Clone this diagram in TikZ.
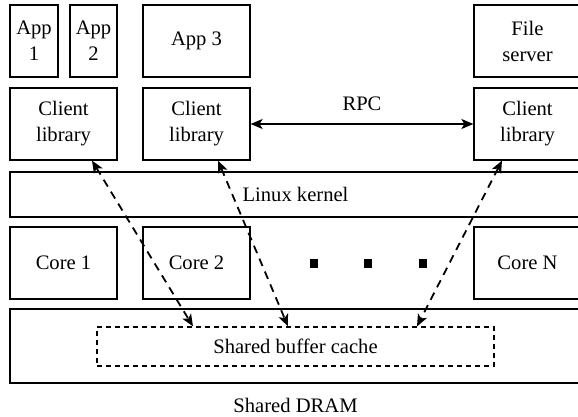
\documentclass[tikz,border=0pt]{standalone}
\usepackage{fontspec}
\setmainfont{Liberation Serif}
\usetikzlibrary{arrows.meta,positioning}

\tikzset{
	box/.style={draw, line width=0.6pt, align=center, inner sep=0pt,
		minimum width=53.5pt, minimum height=36pt,
		font=\fontsize{10.3}{13}\selectfont},
	bar/.style={box, minimum width=285.5pt},
	link/.style={line width=0.9pt, {Stealth[length=6pt,width=5pt,inset=1.5pt]}-{Stealth[length=6pt,width=5pt,inset=1.5pt]}},
	dashlink/.style={link, dash pattern=on 4pt off 3pt}
}

\begin{document}
\begin{tikzpicture}[x=0.5pt,y=-0.5pt]
				\useasboundingbox (0,0) rectangle (578,417);
				% applications
				\node[box, minimum width=24pt] (app1) at (34,41) {App\\1};
				\node[box, minimum width=23.5pt] (app2) at (93.5,41) {App\\2};
				\node[box] (app3) at (196.5,41) {App 3};
				\node[box, minimum width=53.5pt] (fs) at (527.5,41) {File\\server};
				% client libraries
				\node[box] (cl1) at (63.5,124) {Client\\library};
				\node[box] (cl2) at (196.5,124) {Client\\library};
				\node[box] (clN) at (527.5,124) {Client\\library};
				% kernel
				\node[bar, minimum height=22.5pt] (kernel) at (295.5,194.5) {Linux kernel};
				% cores
				\node[box] (core1) at (63.5,263) {Core 1};
				\node[box] (core2) at (196.5,263) {Core 2};
				\node[box] (coreN) at (527.5,263) {Core N};
				\foreach \x/\n in {314/a,368/b,423/c}
					\node[fill, inner sep=0pt, minimum width=4pt, minimum height=4.5pt] (dot\n) at (\x,263) {};
				% memory
				\node[bar, minimum height=37pt] (dram) at (295.5,346) {};
				\node[below=4pt of dram, font=\fontsize{10.3}{13}\selectfont] (dramlabel) {Shared DRAM};
				\node[box, dash pattern=on 2.5pt off 2pt, minimum width=198.5pt, minimum height=19.5pt] (cache) at (295.5,346.5) {Shared buffer cache};
				% connections
				\draw[link] (cl2.east) -- node[above=3pt, font=\fontsize{10.3}{13}\selectfont] (rpc) {RPC} (clN.west);
				\draw[dashlink] ([xshift=14.25pt]cl1.south) -- ([xshift=-51.25pt]cache.north);
				\draw[dashlink] ([xshift=10.75pt]cl2.south) -- ([xshift=-3.75pt]cache.north);
				\draw[dashlink] ([xshift=-12.75pt]clN.south) -- ([xshift=60.75pt]cache.north);
\end{tikzpicture}
\end{document}
